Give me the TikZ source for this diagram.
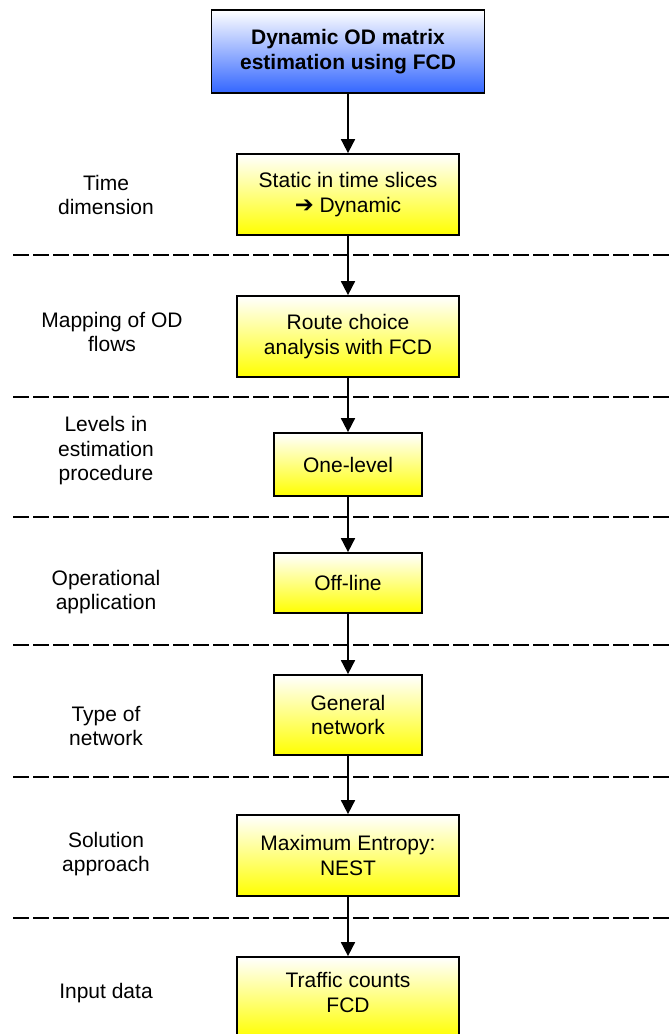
\documentclass[tikz,border=0pt]{standalone}
\usepackage{fontspec}
\setmainfont{Liberation Sans}
\newfontfamily\symfont{DejaVu Sans}
\usetikzlibrary{arrows.meta}
\definecolor{topblue}{RGB}{51,102,255}
\begin{document}
\begin{tikzpicture}[x=0.75pt,y=-0.75pt,
  txt/.style={font=\fontsize{15.75}{18.4}\selectfont, align=center},
  box/.style={txt, draw=black, line width=1.3pt, inner sep=0pt,
    top color=white, bottom color=yellow},
  widebox/.style={box, minimum width=166.5pt, minimum height=60.75pt},
  narrowbox/.style={box, minimum width=111pt, minimum height=#1},
  lab/.style={txt},
  flow/.style={line width=1.3pt, -{Triangle[length=10.5pt,width=10.5pt]}},
  sep/.style={line width=1.5pt, dash pattern=on 12pt off 3pt}
]
\useasboundingbox (0,0) rectangle (671,1034);

% title box
\node[txt, draw=black, line width=1.3pt, inner sep=0pt, font=\fontsize{15.75}{18.4}\selectfont\bfseries,
  top color=white, bottom color=topblue, minimum width=204.75pt, minimum height=62.25pt]
  (top) at (348,51.5) {Dynamic OD matrix\\estimation using FCD};

% step boxes
\node[widebox] (b1) at (348,194.5) {Static in time slices\\{\symfont\fontsize{17}{18.4}\selectfont ➔} Dynamic};
\node[widebox] (b2) at (348,336.5) {Route choice\\analysis with FCD};
\node[narrowbox=47.25pt] (b3) at (348,464.5) {One-level};
\node[narrowbox=45pt] (b4) at (348,583) {Off-line};
\node[narrowbox=60pt] (b5) at (348,715) {General\\network};
\node[widebox] (b6) at (348,855.5) {Maximum Entropy:\\NEST};
\node[widebox] (b7) at (348,997.5) {};
\node[txt] (b7text) at (348,992.5) {Traffic counts\\FCD};

% connectors
\draw[flow] (top.south) -- (b1.north);
\draw[flow] (b1.south) -- (b2.north);
\draw[flow] (b2.south) -- (b3.north);
\draw[flow] (b3.south) -- (b4.north);
\draw[flow] (b4.south) -- (b5.north);
\draw[flow] (b5.south) -- (b6.north);
\draw[flow] (b6.south) -- (b7.north);

% separators
\foreach \y in {255,397,517,645,777,918}
  \draw[sep] (13,\y) -- (671,\y);

% row labels
\node[lab] (l1) at (106,195) {Time\\dimension};
\node[lab] (l2) at (112,332) {Mapping of OD\\flows};
\node[lab] (l3) at (106,451) {Levels in\\estimation\\procedure};
\node[lab] (l4) at (106,592) {Operational\\application};
\node[lab] (l5) at (106,726) {Type of\\network};
\node[lab] (l6) at (106,854) {Solution\\approach};
\node[lab] (l7) at (106,993) {Input data};
\end{tikzpicture}
\end{document}
